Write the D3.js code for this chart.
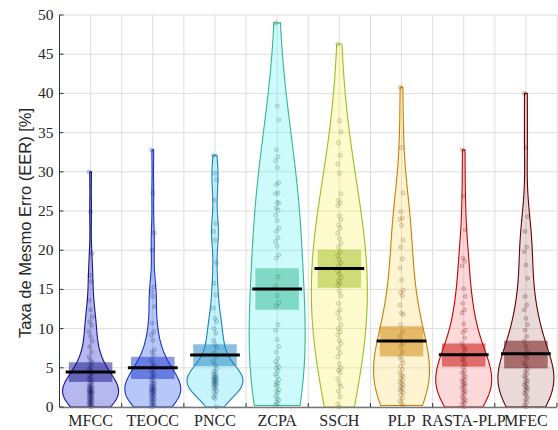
<!DOCTYPE html>
<html>
<head>
<meta charset="utf-8">
<script src="https://cdn.jsdelivr.net/npm/d3@7"></script>
<style>
  body { margin: 0; background: #fff; }
  .tick-label { font-family: 'Liberation Serif', 'DejaVu Serif', serif; font-size: 15.5px; fill: #262626; }
  .cat-label { font-family: 'Liberation Serif', 'DejaVu Serif', serif; font-size: 16px; fill: #262626; }
  .ylabel { font-family: 'Liberation Sans', Arial, sans-serif; font-size: 16.5px; fill: #262626; }
</style>
</head>
<body>
<script>
// categories and colours
var categories = ['MFCC', 'TEOCC', 'PNCC', 'ZCPA', 'SSCH', 'PLP', 'RASTA-PLP', 'MFEC']
var edgeColors = ['#14148c', '#1a33cc', '#1780c0', '#33b890', '#9dbd1f', '#cc7f00', '#c40000', '#660000']
var fillColors = ['#1212cc', '#1245e6', '#47dbf5', '#59f2f2', '#f7f259', '#ffdb6b', '#f78080', '#ba8080']
// smoothing of each violin (multiplier on the matlab-style bandwidth)
var bwScale = [1.5, 1.5, 1.0, 1.4, 1.6, 1.3, 1.3, 1.3]

// EER values per feature set [%]
var mfcc = [30, 24.9, 19.6, 16.8, 16.0, 13.6, 12.4, 11.5, 10.9, 10.4, 9.6, 9.0, 8.4, 7.7, 7.0, 6.4,
  6.0, 5.7, 5.4, 5.1, 4.8, 4.6, 4.3, 4.0, 3.8, 3.6, 3.4, 3.2, 3.0, 2.8,
  2.7, 2.6, 2.5, 2.4, 2.3, 2.2, 2.1, 2.0, 2.0, 1.9, 1.9, 1.8, 1.7, 1.6, 1.5, 1.4, 1.3, 1.2, 1.1, 1.0,
  0.9, 0.8, 0.7, 0.6, 0.5, 0.4, 0.3, 0.2, 0.1, 0]
var teocc = [32.8, 27.3, 22.2, 20.0, 15.3, 14.7, 14.1, 12.8, 10.7, 9.6, 9.2, 8.5, 7.3, 7.0, 6.6,
  6.0, 5.6, 5.3, 5.1, 4.8, 4.6, 4.3, 4.1, 3.9, 3.7, 3.5, 3.3, 3.1, 3.0, 2.9, 2.7, 2.6, 2.5, 2.4,
  2.3, 2.2, 2.2, 2.1, 2.0, 1.9, 1.8, 1.7, 1.6, 1.5, 1.4, 1.2, 1.1, 1.0, 0.9, 0.7, 0.6, 0.5, 0.3,
  0.2, 0.1, 0]
var pncc = [32.1, 29.8, 29.0, 26.4, 23.4, 22.4, 21.3, 18.4, 15.8, 14.3, 12.6, 11.3, 10.9, 10.0, 9.4,
  8.5, 8.0, 7.6, 6.9, 6.4, 5.8, 5.3, 4.9, 4.6, 4.4, 4.2, 4.0, 3.9, 3.8, 3.7, 3.6, 3.5, 3.4, 3.3,
  3.2, 3.1, 3.0, 2.9, 2.8, 2.6, 2.5, 2.3, 2.1, 1.9, 1.6, 1.3, 1.1, 0]
var zcpa = [49, 38.4, 36.6, 32.8, 31.9, 31.4, 30.5, 28.6, 28.4, 27.3, 27.2, 26.1, 26.0, 25.4, 25.1,
  24.5, 23.8, 22.8, 22.4, 21.6, 21.1, 20.5, 19.4, 19.0, 16.6, 15.4, 14.2, 13.3, 12.9, 10.5, 9.8, 8.6,
  7.7, 7.0, 6.2, 5.8, 5.4, 5.1, 4.9, 4.6, 4.2, 3.9, 3.5, 3.2, 3.0, 2.8, 2.6, 2.2, 2.0, 1.8, 1.4,
  1.1, 0.9, 0.6, 0.4, 0.2]
var ssch = [46.3, 36.5, 35.1, 33.7, 32.1, 31.0, 29.8, 27.2, 26.4, 26.0, 25.7, 24.4, 23.9, 23.2, 22.8,
  22.2, 21.5, 20.9, 20.4, 19.8, 19.3, 18.8, 18.4, 18.0, 17.6, 17.3, 16.9, 16.5, 16.1, 15.8, 15.5,
  14.8, 14.2, 13.2, 12.4, 12.0, 11.3, 10.5, 10.0, 9.6, 9.2, 8.5, 8.1, 7.5, 6.9, 6.4, 5.5, 5.0, 4.7,
  4.4, 3.6, 3.0, 2.6, 2.0, 1.3, 0.4, 0]
var plp = [40.8, 33.1, 27.3, 24.9, 24.1, 23.9, 23.2, 21.3, 20.4, 18.9, 17.7, 16.2, 14.9, 14.6, 14.2,
  13.0, 12.0, 11.8, 10.5, 9.6, 9.0, 8.4, 8.1, 7.7, 7.0, 6.4, 6.0, 5.6, 5.2, 4.8, 4.4, 4.1, 3.9,
  3.7, 3.4, 3.2, 3.0, 2.8, 2.6, 2.4, 2.2, 2.0, 1.8, 1.5, 1.1, 0.8, 0.5, 0.2]
var rastaPlp = [32.8, 26.9, 22.6, 19.0, 18.6, 18.0, 15.1, 14.1, 13.2, 12.4, 12.0, 10.6, 9.8, 9.5, 8.8,
  8.1, 7.6, 7.3, 6.8, 6.4, 6.1, 5.8, 5.4, 5.1, 4.7, 4.4, 4.2, 3.9, 3.7, 3.5, 3.3, 3.1, 2.9, 2.8,
  2.6, 2.4, 2.2, 2.0, 1.8, 1.6, 1.3, 1.1, 0.9, 0.7, 0.5, 0.3, 0]
var mfec = [40, 33.1, 24.3, 22.4, 20.4, 19.8, 18.1, 16.4, 14.1, 13.0, 12.4, 11.3, 10.5, 9.8, 9.0,
  8.4, 7.7, 7.05, 6.6, 6.2, 5.6, 5.2, 4.8, 4.5, 4.2, 3.9, 3.7, 3.4, 3.2, 3.0, 2.8, 2.6, 2.4, 2.2,
  2.0, 1.75, 1.5, 1.2, 0.9, 0.6, 0.25, 0]

// mean line and confidence box
var means = [4.45, 5.0, 6.63, 15.05, 17.65, 8.42, 6.68, 6.8]
var boxLow = [3.2, 3.57, 5.2, 12.4, 15.2, 6.45, 5.15, 4.93]
var boxHigh = [5.7, 6.4, 8.0, 17.7, 20.07, 10.3, 8.1, 8.46]

var yTicks = [0, 5, 10, 15, 20, 25, 30, 35, 40, 45, 50]

var groups = [mfcc, teocc, pncc, zcpa, ssch, plp, rastaPlp, mfec]

var W = 558
var H = 430
var margin = { left: 59.5, right: 1, top: 15, bottom: 23 }

var svg = d3.select('body').append('svg')
  .attr('width', W)
  .attr('height', H)

var x = d3.scaleLinear().domain([0.5, 8.5]).range([margin.left, W - margin.right])
var y = d3.scaleLinear().domain([0, 50]).range([H - margin.bottom, margin.top])

// grid
var grid = svg.append('g')
grid.selectAll('line.hg')
  .data(yTicks)
  .enter().append('line')
  .attr('x1', x(0.5)).attr('x2', x(8.5))
  .attr('y1', function (d) { return y(d) }).attr('y2', function (d) { return y(d) })
  .attr('stroke', '#dedede').attr('stroke-width', 1)
grid.selectAll('line.vg')
  .data(d3.range(1, 17).map(function (i) { return 0.5 + i * 0.5 }))
  .enter().append('line')
  .attr('x1', function (d) { return x(d) }).attr('x2', function (d) { return x(d) })
  .attr('y1', y(0)).attr('y2', y(50))
  .attr('stroke', '#dedede').attr('stroke-width', 1)

// kernel density, normal kernel, matlab-style bandwidth
function kde (data, k) {
  var n = data.length
  var med = d3.median(data)
  var mad = d3.median(data.map(function (v) { return Math.abs(v - med) }))
  var bw = k * mad / 0.6745 * Math.pow(4 / (3 * n), 0.2)
  var lo = d3.min(data)
  var hi = d3.max(data)
  var pts = d3.range(0, 201).map(function (i) { return lo + (hi - lo) * i / 200 })
  return pts.map(function (v) {
    var s = d3.sum(data, function (d) {
      var u = (v - d) / bw
      return Math.exp(-0.5 * u * u)
    })
    return [v, s / (n * bw * Math.sqrt(2 * Math.PI))]
  })
}

var halfWidth = 0.45
var boxHalf = 0.35
var lineHalf = 0.4

groups.forEach(function (data, i) {
  var c = i + 1
  var dens = kde(data, bwScale[i])
  var dmax = d3.max(dens, function (d) { return d[1] })
  var w = d3.scaleLinear().domain([0, dmax]).range([0, halfWidth])

  var right = dens.map(function (d) { return [x(c + w(d[1])), y(d[0])] })
  var left = dens.slice().reverse().map(function (d) { return [x(c - w(d[1])), y(d[0])] })
  var outline = right.concat(left)

  var g = svg.append('g')

  g.append('path')
    .attr('d', d3.line()(outline) + 'Z')
    .attr('fill', fillColors[i])
    .attr('fill-opacity', 0.3)
    .attr('stroke', edgeColors[i])
    .attr('stroke-width', 1.1)

  g.append('rect')
    .attr('x', x(c - boxHalf))
    .attr('width', x(c + boxHalf) - x(c - boxHalf))
    .attr('y', y(boxHigh[i]))
    .attr('height', y(boxLow[i]) - y(boxHigh[i]))
    .attr('fill', edgeColors[i])
    .attr('fill-opacity', 0.5)

  g.selectAll('circle')
    .data(data)
    .enter().append('circle')
    .attr('cx', function (d, j) { return x(c) + ((j * 7) % 5 - 2) * 0.8 })
    .attr('cy', function (d) { return y(d) })
    .attr('r', 2.1)
    .attr('fill', edgeColors[i])
    .attr('fill-opacity', 0.18)
    .attr('stroke', '#000')
    .attr('stroke-opacity', 0.2)
    .attr('stroke-width', 0.7)

  g.append('line')
    .attr('x1', x(c - lineHalf)).attr('x2', x(c + lineHalf))
    .attr('y1', y(means[i])).attr('y2', y(means[i]))
    .attr('stroke', '#000')
    .attr('stroke-width', 3)
})

// axes
var axes = svg.append('g')
axes.append('line')
  .attr('x1', margin.left).attr('x2', margin.left)
  .attr('y1', y(50)).attr('y2', y(0))
  .attr('stroke', '#333').attr('stroke-width', 1)
axes.append('line')
  .attr('x1', margin.left).attr('x2', x(8.5))
  .attr('y1', y(0) + 0.5).attr('y2', y(0) + 0.5)
  .attr('stroke', '#777').attr('stroke-width', 1.5)

axes.selectAll('line.yt')
  .data(yTicks)
  .enter().append('line')
  .attr('x1', margin.left).attr('x2', margin.left + 4)
  .attr('y1', function (d) { return y(d) }).attr('y2', function (d) { return y(d) })
  .attr('stroke', '#333')
axes.selectAll('line.xt')
  .data(d3.range(1, 9).map(function (i) { return 0.5 + i }))
  .enter().append('line')
  .attr('x1', function (d) { return x(d) }).attr('x2', function (d) { return x(d) })
  .attr('y1', y(0)).attr('y2', y(0) - 4)
  .attr('stroke', '#333')

axes.selectAll('text.yl')
  .data(yTicks)
  .enter().append('text')
  .attr('class', 'tick-label')
  .attr('x', margin.left - 6)
  .attr('y', function (d) { return y(d) + 5 })
  .attr('text-anchor', 'end')
  .text(function (d) { return d })

axes.selectAll('text.xl')
  .data(categories)
  .enter().append('text')
  .attr('class', 'cat-label')
  .attr('x', function (d, i) { return x(i + 1) })
  .attr('y', y(0) + 19)
  .attr('text-anchor', 'middle')
  .text(function (d) { return d })

svg.append('text')
  .attr('class', 'ylabel')
  .attr('transform', 'translate(31,' + (y(25) + 12) + ') rotate(-90)')
  .attr('text-anchor', 'middle')
  .text('Taxa de Mesmo Erro (EER) [%]')
</script>
</body>
</html>
